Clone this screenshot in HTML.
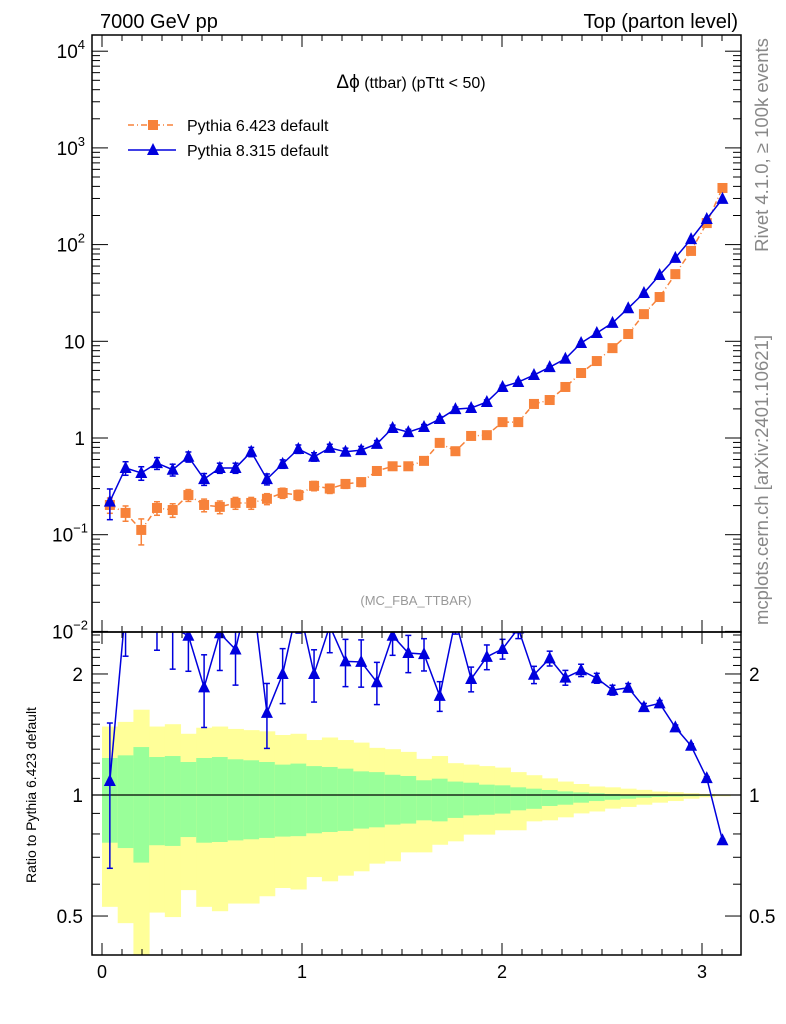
<!DOCTYPE html>
<html><head><meta charset="utf-8"><style>
html,body{margin:0;padding:0;background:#fff;}
svg{display:block;font-family:"Liberation Sans",sans-serif;}
</style></head><body>
<svg id="chart" width="786" height="1024" viewBox="0 0 786 1024" xmlns="http://www.w3.org/2000/svg">
<text x="100" y="28" font-size="20">7000 GeV pp</text>
<text x="738" y="28" font-size="20" text-anchor="end">Top (parton level)</text>
<text x="411" y="88" font-size="16" text-anchor="middle"><tspan font-size="19">Δϕ</tspan> (ttbar) (pTtt &lt; 50)</text>
<text x="416" y="605" font-size="13" fill="#999" text-anchor="middle">(MC_FBA_TTBAR)</text>
<text transform="translate(768,145) rotate(-90)" font-size="18.5" fill="#888" text-anchor="middle">Rivet 4.1.0, ≥ 100k events</text>
<text transform="translate(768,480) rotate(-90)" font-size="18.5" fill="#888" text-anchor="middle">mcplots.cern.ch [arXiv:2401.10621]</text>
<text transform="translate(36,795) rotate(-90)" font-size="14" text-anchor="middle">Ratio to Pythia 6.423 default</text>
<g id="legend">
 <g>
  <line x1="128" y1="125" x2="176" y2="125" stroke="#f7823a" stroke-width="1.5" stroke-dasharray="6,3,1,3"/>
  <rect x="148" y="120" width="10" height="10" fill="#f7823a"/>
  <text x="187" y="131" font-size="16">Pythia 6.423 default</text>
 </g>
 <g>
  <line x1="128" y1="150" x2="176" y2="150" stroke="#0000dd" stroke-width="1.5"/>
  <polygon points="153,143 159,155 147,155" fill="#0000dd"/>
  <text x="187" y="156" font-size="16">Pythia 8.315 default</text>
 </g>
</g>
<g id="plots"></g>
</svg>
<script>
const binEdgesCount = 40;
const xMax = Math.PI;
const pythia6Values = [0.203,0.168,0.112,0.189,0.180,0.257,0.203,0.194,0.213,0.213,0.235,0.27,0.257,0.32,0.30,0.335,0.35,0.456,0.51,0.51,0.58,0.89,0.73,1.05,1.07,1.46,1.46,2.25,2.47,3.37,4.7,6.25,8.5,11.9,19.1,28.7,49.5,86,167,385];
const pythia8Values = [0.22,0.49,0.435,0.55,0.47,0.64,0.376,0.49,0.49,0.72,0.376,0.54,0.77,0.64,0.79,0.72,0.75,0.87,1.27,1.15,1.30,1.57,1.99,2.04,2.36,3.37,3.79,4.48,5.4,6.6,9.6,12.2,15.5,22,31.6,48.5,72.9,114,184,297];
const pythia6RelErr = [0.18,0.18,0.3,0.16,0.16,0.14,0.15,0.15,0.14,0.14,0.13,0.12,0.12,0.11,0.11,0.1,0.1,0.09,0.08,0.08,0.07,0.06,0.06,0.05,0.05,0.04,0.04,0.035,0.03,0.03,0.025,0.02,0.02,0.017,0.015,0.012,0.01,0.008,0.006,0.004];
const pythia8RelErr = [0.35,0.16,0.16,0.14,0.14,0.12,0.14,0.12,0.12,0.11,0.13,0.1,0.1,0.1,0.09,0.09,0.09,0.08,0.07,0.07,0.06,0.06,0.05,0.05,0.05,0.04,0.04,0.035,0.03,0.03,0.025,0.02,0.02,0.017,0.015,0.012,0.01,0.008,0.006,0.004];
const yellowUpper = [1.48,1.52,1.63,1.48,1.50,1.42,1.47,1.48,1.46,1.45,1.44,1.41,1.42,1.37,1.39,1.37,1.35,1.31,1.30,1.28,1.23,1.25,1.20,1.19,1.18,1.17,1.14,1.12,1.10,1.08,1.065,1.05,1.045,1.037,1.03,1.02,1.016,1.01,1.006,1.002];
const yellowLower = [0.527,0.48,0.40,0.51,0.497,0.58,0.527,0.514,0.537,0.537,0.56,0.587,0.582,0.625,0.61,0.63,0.646,0.675,0.684,0.72,0.72,0.752,0.767,0.797,0.797,0.817,0.817,0.86,0.865,0.88,0.90,0.91,0.925,0.934,0.946,0.957,0.966,0.979,0.987,0.993];
const greenUpper = [1.236,1.255,1.316,1.243,1.25,1.208,1.236,1.243,1.227,1.22,1.208,1.19,1.197,1.18,1.174,1.163,1.145,1.14,1.123,1.115,1.088,1.098,1.08,1.073,1.061,1.057,1.045,1.037,1.029,1.021,1.015,1.01,1.006,1.002,1.001,1.001,1.0,1.0,1.0,1.0];
const greenLower = [0.761,0.738,0.679,0.75,0.747,0.786,0.761,0.764,0.771,0.776,0.782,0.788,0.79,0.803,0.809,0.814,0.825,0.831,0.844,0.849,0.865,0.86,0.877,0.89,0.893,0.899,0.916,0.924,0.939,0.946,0.957,0.966,0.973,0.979,0.985,0.989,0.991,0.993,0.995,0.997];
const mainYTicks = [-2,-1,0,1,2,3,4];
const mainYTickLabels = ["10","10","1","10","10","10","10"];
const mainYTickExps = ["−2","−1","","","2","3","4"];
const ratioYTicks = [0.5,1,2];
const ratioYTickLabels = ["0.5","1","2"];
const xTicks = [0,1,2,3];

const NS="http://www.w3.org/2000/svg";
const L=92,R=741,T=35,M=632,B=955;
const sx=v=>L+(v+0.05)*200;
const sy=v=>438-96.7*Math.log10(v);
const sr=v=>795-174.6*Math.log(v);
const g=document.getElementById('plots');
function mk(tag,attrs,parent){const e=document.createElementNS(NS,tag);for(const k in attrs)e.setAttribute(k,attrs[k]);(parent||g).appendChild(e);return e;}
const bw=xMax/binEdgesCount;
const centers=pythia6Values.map((_,i)=>(i+0.5)*bw);

const bands=mk('g',{});


const clipR=mk('clipPath',{id:'clipR'});mk('rect',{x:L,y:M,width:R-L,height:B-M},clipR);
const clipM=mk('clipPath',{id:'clipM'});mk('rect',{x:L,y:T,width:R-L,height:M-T},clipM);
bands.setAttribute('clip-path','url(#clipR)');
centers.forEach((c,i)=>{
 const x0=sx(i*bw),x1=sx((i+1)*bw);
 const y=mk('rect',{x:x0,y:sr(yellowUpper[i]),width:x1-x0+0.5,height:sr(yellowLower[i])-sr(yellowUpper[i]),fill:'#ffff99'},bands);
 
 
 const gr=mk('rect',{x:x0,y:sr(greenUpper[i]),width:x1-x0+0.5,height:sr(greenLower[i])-sr(greenUpper[i]),fill:'#99ff99'},bands);
 
 
});
const one=mk('line',{x1:L,x2:R,y1:sr(1),y2:sr(1),stroke:'#000','stroke-width':1.3});



function series(vals,errs,color,dash,marker,name,ysc,clip){
 const s=mk('g',{'clip-path':clip});
 
 
 const pts=vals.map((v,i)=>sx(centers[i])+','+ysc(v)).join(' ');
 const attrs={points:pts,fill:'none',stroke:color,'stroke-width':1.5};
 if(dash)attrs['stroke-dasharray']=dash;
 mk('polyline',attrs,s);
 vals.forEach((v,i)=>{
  const x=sx(centers[i]),y=ysc(v);
  const hi=ysc(v*(1+errs[i])),lo=ysc(Math.max(v*(1-errs[i]),1e-6));
  mk('line',{x1:x,x2:x,y1:hi,y2:lo,stroke:color,'stroke-width':1.5},s);
  mk('line',{x1:x-3,x2:x+3,y1:hi,y2:hi,stroke:color,'stroke-width':1.5},s);
  mk('line',{x1:x-3,x2:x+3,y1:lo,y2:lo,stroke:color,'stroke-width':1.5},s);
  let m;
  if(marker==='sq')m=mk('rect',{x:x-5,y:y-5,width:10,height:10,fill:color},s);
  else m=mk('polygon',{points:`${x},${y-7} ${x+6},${y+5} ${x-6},${y+5}`,fill:color},s);
  
  
 });
}
series(pythia6Values,pythia6RelErr,'#f7823a','6,3,1,3','sq','pythia6-series',sy,'url(#clipM)');
series(pythia8Values,pythia8RelErr,'#0000dd',null,'tri','pythia8-series',sy,'url(#clipM)');
const ratioVals=pythia8Values.map((v,i)=>v/pythia6Values[i]);
const ratioErr=pythia8RelErr.map((e,i)=>Math.sqrt(e*e+pythia6RelErr[i]*pythia6RelErr[i]));
series(ratioVals,ratioErr,'#0000dd',null,'tri','pythia8-ratio-series',sr,'url(#clipR)');

const f1=mk('rect',{x:L,y:T,width:R-L,height:M-T,fill:'none',stroke:'#000','stroke-width':1.5});


const f2=mk('rect',{x:L,y:M,width:R-L,height:B-M,fill:'none',stroke:'#000','stroke-width':1.5});



const ax=mk('g',{stroke:'#000','stroke-width':1});


for(let k=0;k<=31;k++){
 const v=k/10,x=sx(v),len=(k%10===0)?12:6;
 [[T,1],[M,-1],[M,1],[B,-1]].forEach(([y0,d])=>mk('line',{x1:x,x2:x,y1:y0,y2:y0+d*len},ax));
}
xTicks.forEach(v=>{
 const t=mk('text',{x:sx(v),y:978,'font-size':18,'text-anchor':'middle',stroke:'none'});
 t.textContent=String(v);
 
 
});
const ay=mk('g',{stroke:'#000','stroke-width':1});


for(let e=-2;e<=4;e++){
 for(let m=1;m<=9;m++){
  const y=sy(m*Math.pow(10,e));
  if(y<T-0.5||y>M+0.5)continue;
  const len=m===1?16:8;
  mk('line',{x1:L,x2:L+len,y1:y,y2:y},ay);
  mk('line',{x1:R,x2:R-len,y1:y,y2:y},ay);
 }
}
mainYTicks.forEach((e,i)=>{
 const y=sy(Math.pow(10,e));
 const t=mk('text',{x:85,y:y+7,'font-size':19,'text-anchor':'end',stroke:'none'});
 
 
 if(mainYTickExps[i]===''&&e===0){t.textContent='1';}
 else if(mainYTickExps[i]===''){t.textContent='10';}
 else{
  const base=document.createElementNS(NS,'tspan');base.textContent=mainYTickLabels[i];t.appendChild(base);
  const sup=document.createElementNS(NS,'tspan');sup.setAttribute('dy','-9');sup.setAttribute('font-size','13');sup.textContent=mainYTickExps[i];t.appendChild(sup);
  t.setAttribute('x',e<0?88:85);
 }
});
const ry=mk('g',{stroke:'#000','stroke-width':1});


[0.4,0.5,0.6,0.7,0.8,0.9,1,1.1,1.2,1.3,1.4,1.5,1.6,1.7,1.8,1.9,2,2.1,2.2,2.3,2.4,2.5].forEach(v=>{
 const y=sr(v);if(y<M||y>B)return;
 const len=(ratioYTicks.includes(v))?16:8;
 mk('line',{x1:L,x2:L+len,y1:y,y2:y},ry);
 mk('line',{x1:R,x2:R-len,y1:y,y2:y},ry);
});
ratioYTicks.forEach((v,i)=>{
 const y=sr(v)+7;
 const a=mk('text',{x:83,y:y,'font-size':19,'text-anchor':'end',stroke:'none'});a.textContent=ratioYTickLabels[i];
 
 
 const b=mk('text',{x:749,y:y,'font-size':19,'text-anchor':'start',stroke:'none'});b.textContent=ratioYTickLabels[i];
 
 
});
</script>
</body></html>
